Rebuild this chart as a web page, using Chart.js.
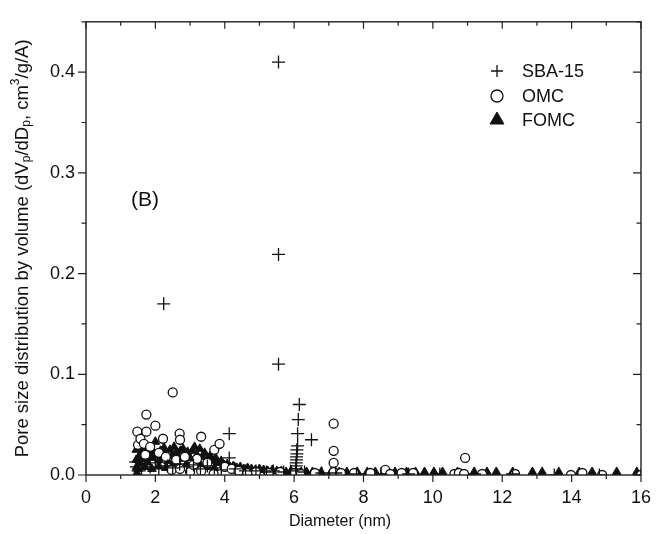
<!DOCTYPE html>
<html>
<head>
<meta charset="utf-8">
<script src="https://cdn.jsdelivr.net/npm/chart.js@4.4.1/dist/chart.umd.min.js"></script>
<style>
  html, body { margin: 0; padding: 0; background: #fff; }
  #psd { display: block; }
</style>
</head>
<body>
<canvas id="psd" width="663" height="534"></canvas>
<script>
// Valores (diâmetro em nm, dVp/dDp)
const sbaX = [1.43, 1.45, 1.50, 1.60, 1.70, 1.85, 2.00, 2.10, 2.24, 2.35, 2.50, 2.70, 2.90, 3.10, 3.30, 3.50, 3.70, 3.90,
  4.13, 4.13, 4.30, 4.60, 4.90, 5.20, 5.40, 5.55, 5.55, 5.55, 5.70, 5.90,
  6.05, 6.06, 6.06, 6.07, 6.07, 6.08, 6.08, 6.10, 6.10, 6.12, 6.15, 6.30, 6.50,
  6.80, 7.20, 7.80, 8.50, 9.30, 10.2, 11.2, 12.3, 13.5, 14.8, 16.0];
const sbaY = [0.013, 0.008, 0.004, 0.006, 0.010, 0.008, 0.012, 0.006, 0.170, 0.009, 0.007, 0.011, 0.008, 0.010, 0.006, 0.009, 0.007, 0.005,
  0.041, 0.017, 0.006, 0.004, 0.004, 0.003, 0.004, 0.410, 0.219, 0.110, 0.003, 0.004,
  0.006, 0.009, 0.012, 0.015, 0.018, 0.021, 0.025, 0.029, 0.041, 0.055, 0.070, 0.003, 0.035,
  0.002, 0.002, 0.001, 0.001, 0.001, 0.001, 0.001, 0.001, 0.000, 0.000, 0.000];

const omcX = [1.48, 1.50, 1.57, 1.67, 1.71, 1.74, 1.74, 1.85, 2.00, 2.10, 2.22, 2.30, 2.47, 2.50, 2.60, 2.70, 2.71, 2.71,
  2.85, 3.00, 3.10, 3.20, 3.32, 3.32, 3.50, 3.68, 3.70, 3.85, 4.00, 4.20, 4.40, 4.65, 4.90, 5.27, 5.60, 6.00, 6.20, 6.60,
  7.14, 7.14, 7.14, 7.14, 7.35, 7.73, 8.20, 8.63, 8.77, 9.10, 9.43, 10.62, 10.75, 10.90, 10.93, 11.42, 12.37,
  13.98, 14.31, 14.88, 16.0];
const omcY = [0.043, 0.030, 0.036, 0.031, 0.020, 0.060, 0.043, 0.028, 0.049, 0.022, 0.036, 0.018, 0.005, 0.082, 0.015, 0.041, 0.035, 0.006,
  0.018, 0.003, 0.010, 0.016, 0.038, 0.004, 0.012, 0.001, 0.025, 0.031, 0.008, 0.006, 0.004, 0.002, 0.003, 0.002, 0.003, 0.002, 0.001, 0.002,
  0.051, 0.024, 0.012, 0.003, 0.002, 0.002, 0.002, 0.005, 0.001, 0.002, 0.002, 0.001, 0.002, 0.001, 0.017, 0.001, 0.001,
  0.000, 0.002, 0.000, 0.000];

const fomcX = [1.45, 1.45, 1.46, 1.47, 1.50, 1.52, 1.56, 1.60, 1.64, 1.68, 1.70, 1.72, 1.76, 1.80, 1.85, 1.90, 1.90, 1.95,
  2.00, 2.05, 2.10, 2.10, 2.15, 2.20, 2.25, 2.30, 2.30, 2.36, 2.42, 2.48, 2.50, 2.54, 2.60, 2.66, 2.70, 2.72, 2.80,
  2.86, 2.90, 2.93, 3.00, 3.07, 3.10, 3.13, 3.20, 3.28, 3.30, 3.35, 3.42, 3.50, 3.50, 3.58, 3.66, 3.70, 3.74, 3.82,
  3.90, 3.98, 4.07, 4.16, 4.25, 4.35, 4.45, 4.55, 4.66, 4.77, 4.88, 5.00, 5.12, 5.24, 5.37, 5.50, 5.63, 5.77, 5.91,
  6.05, 6.20, 6.36, 6.53, 6.78, 7.07, 7.30, 7.52, 7.82, 8.11, 8.34, 8.62, 8.91, 9.24, 9.50, 9.76, 10.03, 10.28,
  10.71, 11.19, 11.56, 11.83, 12.30, 12.87, 13.15, 13.63, 14.22, 14.59, 15.30, 15.88];
const fomcY = [0.025, 0.015, 0.008, 0.002, 0.006, 0.018, 0.012, 0.022, 0.016, 0.024, 0.008, 0.019, 0.013, 0.021, 0.026, 0.017, 0.006, 0.023,
  0.033, 0.020, 0.015, 0.009, 0.024, 0.018, 0.027, 0.021, 0.007, 0.014, 0.025, 0.019, 0.010, 0.028, 0.022, 0.016, 0.008, 0.024, 0.026,
  0.019, 0.011, 0.023, 0.017, 0.024, 0.009, 0.028, 0.020, 0.026, 0.010, 0.018, 0.022, 0.016, 0.008, 0.019, 0.014, 0.007, 0.017, 0.012,
  0.014, 0.010, 0.011, 0.008, 0.009, 0.007, 0.008, 0.006, 0.007, 0.006, 0.005, 0.006, 0.005, 0.004, 0.005, 0.004, 0.004, 0.003, 0.004,
  0.003, 0.003, 0.003, 0.003, 0.003, 0.003, 0.003, 0.003, 0.003, 0.003, 0.003, 0.003, 0.003, 0.003, 0.003, 0.003, 0.003, 0.003,
  0.003, 0.003, 0.003, 0.003, 0.003, 0.003, 0.003, 0.003, 0.003, 0.003, 0.003, 0.003];

const seriesLabels = ['SBA-15', 'OMC', 'FOMC'];
const xTickLabels = ['0', '2', '4', '6', '8', '10', '12', '14', '16'];
const yTickLabels = ['0.0', '0.1', '0.2', '0.3', '0.4'];

const FONT = "'Liberation Sans', Arial, Helvetica, sans-serif";
const INK = '#111';

// Junta x e y em pontos para o Chart.js
function toPoints(xs, ys) {
  return xs.map((x, i) => ({ x: x, y: ys[i] }));
}

// Moldura, marcas de escala, legenda e títulos dos eixos
const decorPlugin = {
  id: 'decor',
  afterDraw(chart) {
    const { ctx, chartArea: a, scales } = chart;
    const xs = scales.x;
    const ys = scales.y;
    ctx.save();
    ctx.strokeStyle = '#222';
    ctx.lineWidth = 1.4;
    ctx.strokeRect(a.left, a.top, a.right - a.left, a.bottom - a.top);

    ctx.lineWidth = 1.2;
    ctx.beginPath();
    for (let v = 0; v <= 16; v += 1) {
      const px = xs.getPixelForValue(v);
      const len = v % 2 === 0 ? 7 : 4;
      ctx.moveTo(px, a.bottom); ctx.lineTo(px, a.bottom + len);
      ctx.moveTo(px, a.top); ctx.lineTo(px, a.top + len);
    }
    for (let k = 0; k <= 9; k++) {
      const py = ys.getPixelForValue(k * 0.05);
      const len = k % 2 === 0 ? 8 : 4.5;
      ctx.moveTo(a.left, py); ctx.lineTo(a.left - len, py);
      ctx.moveTo(a.right, py); ctx.lineTo(a.right - len, py);
    }
    ctx.stroke();

    // Legenda: marcadores um pouco maiores que os do gráfico
    const lx = 497, ly = [71, 96, 120];
    const legendRadius = [6, 6, 8];
    chart.data.datasets.forEach((ds, i) => {
      ctx.save();
      ctx.fillStyle = ds.backgroundColor;
      ctx.strokeStyle = ds.borderColor;
      ctx.lineWidth = ds.borderWidth;
      Chart.helpers.drawPoint(ctx, {
        pointStyle: ds.pointStyle, radius: legendRadius[i], borderWidth: ds.borderWidth, rotation: 0
      }, lx, ly[i]);
      ctx.restore();
    });

    ctx.fillStyle = INK;
    ctx.font = '18px ' + FONT;
    ctx.textBaseline = 'middle';
    seriesLabels.forEach((t, i) => ctx.fillText(t, 522, ly[i] + 1));

    ctx.font = '21px ' + FONT;
    ctx.textBaseline = 'alphabetic';
    ctx.fillText('(B)', 131, 206);

    ctx.font = '16px ' + FONT;
    ctx.textAlign = 'center';
    ctx.fillText('Diameter (nm)', 340, 526);

    // Título do eixo y com índices
    const parts = [
      { t: 'Pore size distribution by volume (dV' }, { t: 'p', dy: 4 }, { t: '/dD' }, { t: 'p', dy: 4 },
      { t: ', cm' }, { t: '3', dy: -7 }, { t: '/g/A)' }
    ];
    const big = '18.5px ' + FONT, small = '12px ' + FONT;
    let total = 0;
    parts.forEach(p => { ctx.font = p.dy ? small : big; p.w = ctx.measureText(p.t).width; total += p.w; });
    ctx.translate(23, (a.top + a.bottom) / 2);
    ctx.rotate(-Math.PI / 2);
    ctx.textAlign = 'left';
    ctx.textBaseline = 'middle';
    let cx = -total / 2;
    parts.forEach(p => {
      ctx.font = p.dy ? small : big;
      ctx.fillText(p.t, cx, p.dy ? p.dy : 0);
      cx += p.w;
    });
    ctx.restore();
  }
};

const psdChart = new Chart(document.getElementById('psd'), {
  type: 'scatter',
  data: {
    datasets: [
      {
        label: seriesLabels[0],
        data: toPoints(sbaX, sbaY),
        pointStyle: 'cross',
        pointRadius: 6.5,
        borderWidth: 1.3,
        borderColor: INK,
        backgroundColor: INK
      },
      {
        label: seriesLabels[1],
        data: toPoints(omcX, omcY),
        pointStyle: 'circle',
        pointRadius: 4.5,
        borderWidth: 1.3,
        borderColor: INK,
        backgroundColor: '#fff'
      },
      {
        label: seriesLabels[2],
        data: toPoints(fomcX, fomcY),
        pointStyle: 'triangle',
        pointRadius: 5,
        borderWidth: 1,
        borderColor: INK,
        backgroundColor: INK
      }
    ]
  },
  options: {
    responsive: false,
    animation: false,
    events: [],
    layout: { padding: { top: 16, right: 13, left: 0, bottom: 0 } },
    plugins: { legend: { display: false }, tooltip: { enabled: false } },
    scales: {
      x: {
        type: 'linear',
        min: 0,
        max: 16,
        grid: { display: false, drawTicks: false },
        border: { display: false },
        ticks: {
          stepSize: 2,
          padding: 12,
          maxRotation: 0,
          color: INK,
          font: { family: FONT, size: 18 },
          callback: (v) => xTickLabels[Math.round(v / 2)]
        },
        afterFit: (s) => { s.height = 59; }
      },
      y: {
        type: 'linear',
        min: 0,
        max: 0.45,
        grid: { display: false, drawTicks: false },
        border: { display: false },
        ticks: {
          stepSize: 0.1,
          padding: 11,
          color: INK,
          font: { family: FONT, size: 18 },
          callback: (v) => {
            const k = Math.round(v * 10);
            return Math.abs(v * 10 - k) < 1e-6 ? yTickLabels[k] : '';
          }
        },
        afterFit: (s) => { s.width = 86; }
      }
    }
  },
  plugins: [decorPlugin]
});
</script>
</body>
</html>
